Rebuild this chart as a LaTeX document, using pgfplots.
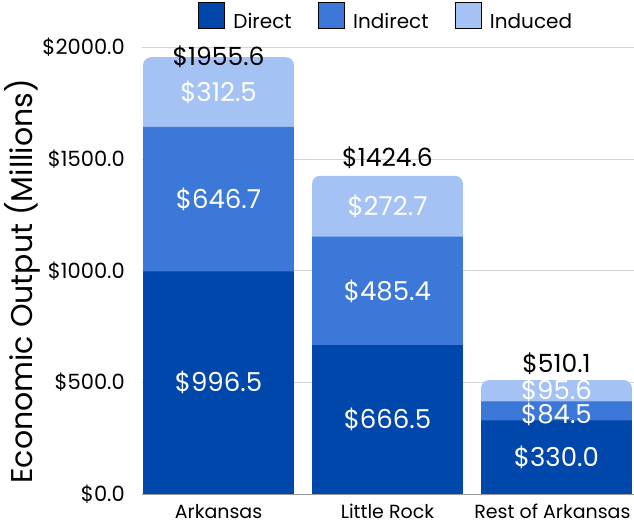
\documentclass[border=0pt]{standalone}
\usepackage{fontspec}
\setmainfont{Poppins}
\usepackage{pgfplots}
\usepackage{pgfplotstable}
\pgfplotsset{compat=1.18}
\definecolor{cDirect}{HTML}{0047AB}
\definecolor{cIndirect}{HTML}{3C78D8}
\definecolor{cInduced}{HTML}{A4C2F4}
\newcommand\fs[1]{\fontsize{#1}{#1}\selectfont}

% cumulative heights of the stacked segments
\pgfplotstableread{
x d di tot
0 996.5 1643.2 1955.6
1 666.5 1151.9 1424.6
2 330.0 414.5 510.1
}\bars

% white segment labels (value, vertical position)
\pgfplotstableread{
x y lab
0 498.25 996.5
0 1319.85 646.7
0 1799.45 312.5
1 333.25 666.5
1 909.2 485.4
1 1288.25 272.7
2 165.0 330.0
2 355.0 84.5
2 466.0 95.6
}\seglabels

% black total labels
\pgfplotstableread{
x y lab
0 1958 1955.6
1 1505 1424.6
2 585 510.1
}\totlabels

\begin{document}
\begin{tikzpicture}[x=1pt,y=1pt]
\useasboundingbox (0,0) rectangle (634,529);
\begin{axis}[
  at={(142pt,35pt)}, anchor=south west,
  width=492pt, height=446.7pt, scale only axis,
  xmin=-0.453, xmax=2.459, ymin=0, ymax=2000,
  clip=false,
  axis line style={draw=none},
  major tick length=0pt,
  ytick={0,500,1000,1500,2000},
  yticklabels={\$0.0,\$500.0,\$1000.0,\$1500.0,\$2000.0},
  xtick={0,1,2},
  xticklabels={Arkansas,Little Rock,{\hspace*{-8pt}Rest of Arkansas}},
  ymajorgrids,
  grid style={draw=black!17, line width=0.8pt},
  yticklabel style={font=\fs{21}, anchor=east, inner sep=0pt, xshift=-17pt},
  xticklabel style={font=\fs{19}, anchor=north, inner sep=0pt, yshift=-10pt},
  ylabel={Economic Output (Millions)},
  every axis y label/.style={at={(axis description cs:-0.244,0.476)}, rotate=90, anchor=center, font=\fs{30}},
  legend image code/.code={\fill[#1] (0pt,-6pt) rectangle (26pt,20pt);},
  legend style={at={(0.496,1.068)}, anchor=center, draw=none, fill=none,
    font=\fs{20}, legend columns=3,
    /tikz/every odd column/.append style={column sep=7pt},
    /tikz/every even column/.append style={column sep=24pt}},
]
\addplot[ybar, bar width=0.893, bar shift=0pt, fill=cInduced, draw=none,
  rounded corners=8pt, forget plot] table[x=x,y=tot]{\bars};
\addplot[ybar, bar width=0.893, bar shift=0pt, fill=cIndirect, draw=none,
  forget plot] table[x=x,y=di]{\bars};
\addplot[ybar, bar width=0.893, bar shift=0pt, fill=cDirect, draw=none,
  forget plot] table[x=x,y=d]{\bars};
\draw[black!40, line width=0.8pt] (rel axis cs:0,0) -- (rel axis cs:1,0);

\addplot[draw=none, mark=none, forget plot,
  nodes near coords={\$\pgfplotspointmeta},
  point meta=explicit symbolic,
  every node near coord/.append style={anchor=center, text=white, font=\fs{26}}]
  table[x=x,y=y,meta=lab]{\seglabels};
\addplot[draw=none, mark=none, forget plot,
  nodes near coords={\$\pgfplotspointmeta},
  point meta=explicit symbolic,
  every node near coord/.append style={anchor=center, text=black, font=\fs{25}}]
  table[x=x,y=y,meta=lab]{\totlabels};

\addlegendimage{fill=cDirect}
\addlegendentry{Direct}
\addlegendimage{fill=cIndirect}
\addlegendentry{Indirect}
\addlegendimage{fill=cInduced}
\addlegendentry{Induced}
\end{axis}
\end{tikzpicture}
\end{document}
